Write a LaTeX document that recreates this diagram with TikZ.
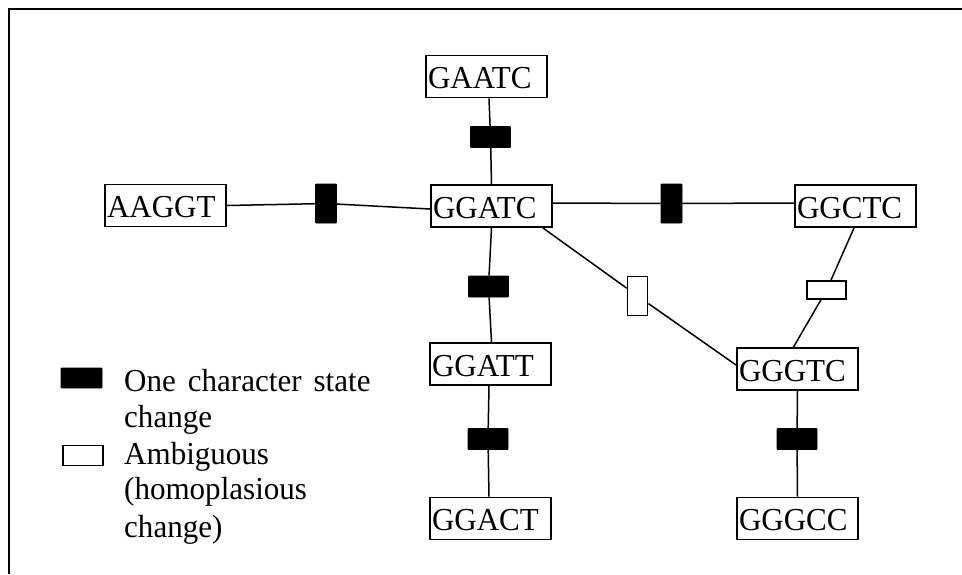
\documentclass[tikz,border=0pt]{standalone}
\usepackage{fontspec}
\setmainfont{Liberation Serif}[FakeStretch=0.97]
\usetikzlibrary{backgrounds}
\begin{document}
\begin{tikzpicture}[x=1pt,y=-1pt,
  seq/.style={draw, line width=1.9pt, fill=white, minimum height=42pt, inner xsep=2pt, inner ysep=0pt,
    text width=117pt, align=left, text height=26pt, text depth=1.4pt, font=\fontsize{32}{37}\selectfont},
  mutb/.style={draw, line width=0.8pt, fill=black, inner sep=0pt, rounded corners=0.8pt},
  mutw/.style={draw, line width=1.7pt, fill=white, inner sep=0pt},
  hbox/.style={minimum width=40pt, minimum height=21pt},
  vbox/.style={minimum width=21pt, minimum height=39pt},
  conn/.style={line width=1.5pt},
  legtext/.style={anchor=base west, inner sep=0pt, font=\fontsize{32}{37}\selectfont}]
\useasboundingbox (0,0) rectangle (962,574);
% frame
\draw[line width=2pt] (9,574) -- (9,8.5) -- (962,8.5);
% sequence nodes
\node[seq] (gaatc) at (486.5,76.5) {GAATC};
\node[seq] (ggatc) at (491.5,206) {GGATC};
\node[seq] (aaggt) at (165.5,205.5) {AAGGT};
\node[seq] (ggctc) at (855.5,206) {GGCTC};
\node[seq] (ggatt) at (490.5,364) {GGATT};
\node[seq] (ggact) at (490.5,518.5) {GGACT};
\node[seq] (gggtc) at (797.5,369) {GGGTC};
\node[seq] (gggcc) at (797.5,518.5) {GGGCC};
% change markers
\node[mutb,hbox] (m1) at (490.5,137) {};
\node[mutb,vbox] (m2) at (326,203.5) {};
\node[mutb,vbox] (m3) at (671.5,203.5) {};
\node[mutb,hbox] (m4) at (488.5,286.5) {};
\node[mutb,hbox] (m5) at (488,439) {};
\node[mutb,hbox] (m6) at (797,439) {};
\node[mutw,minimum width=20pt,minimum height=39pt] (w1) at (637.6,296) {};
\node[mutw,minimum width=39pt,minimum height=18pt] (w2) at (826.6,290) {};
% connectors
\begin{scope}[on background layer]
\draw[conn] ([xshift=2.5pt]gaatc.south) -- (m1) -- (ggatc.north);
\draw[conn] (aaggt.east) -- (m2) -- ([yshift=-3pt]ggatc.west);
\draw[conn] ([yshift=3pt]ggatc.east) -- (m3) -- ([yshift=3pt]ggctc.west);
\draw[conn] (ggatc.south) -- (m4) -- ([xshift=1pt]ggatt.north);
\draw[conn] ([xshift=-1.5pt]ggatt.south) -- (m5) -- ([xshift=-1.5pt]ggact.north);
\draw[conn] (gggtc.south) -- (m6) -- (gggcc.north);
\draw[conn] ([xshift=-10pt]ggatc.south east) -- (w1) -- ([yshift=4pt]gggtc.west);
\draw[conn] ([xshift=-1.5pt]ggctc.south) -- (w2) -- ([xshift=-4pt]gggtc.north);
\end{scope}
% legend
\node[mutb,minimum width=41pt,minimum height=20pt] (lb) at (81.5,378) {};
\node[mutw,minimum width=40pt,minimum height=20pt] (lw) at (83,455.5) {};
\node[legtext] (l1) at (124,391) {One\hspace{12pt}character\hspace{12pt}state};
\node[legtext] (l2) at (124,427) {change};
\node[legtext] (l3) at (124,464) {Ambiguous};
\node[legtext] (l4) at (124,499) {(homoplasious};
\node[legtext] (l5) at (124,537) {change)};
\end{tikzpicture}
\end{document}
